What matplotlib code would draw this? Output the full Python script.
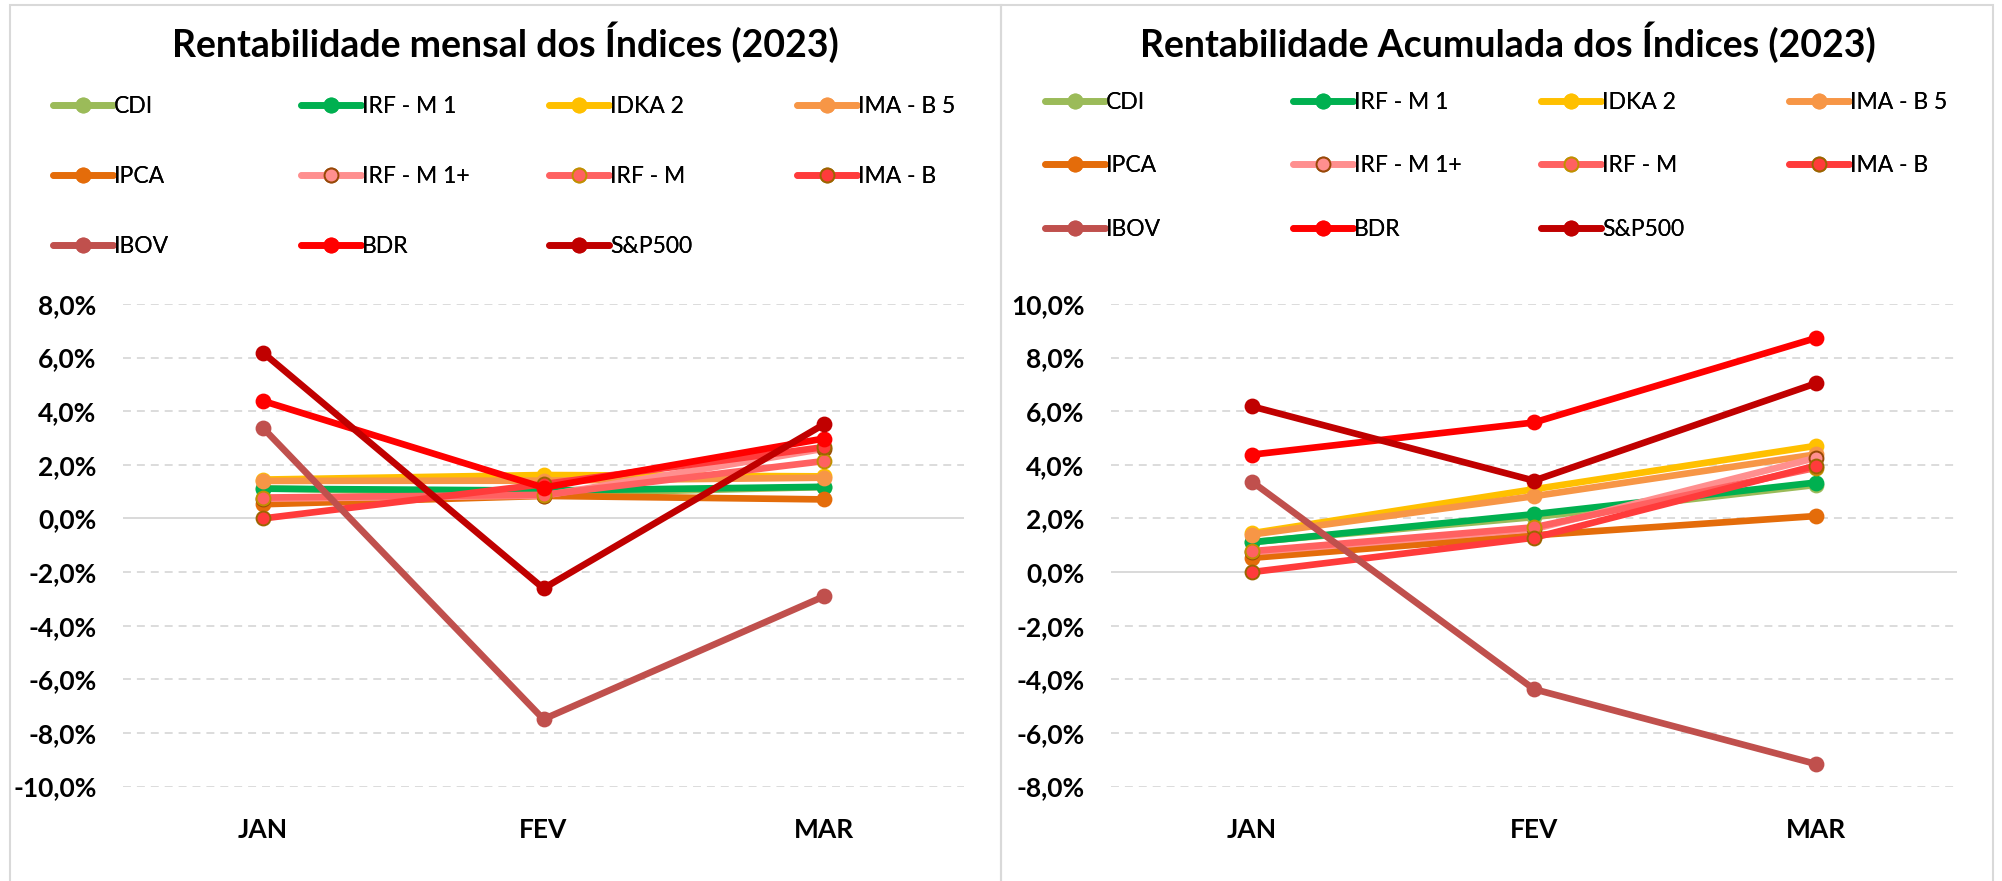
import matplotlib
matplotlib.use("Agg")
import matplotlib.pyplot as plt
import numpy as np
from matplotlib.lines import Line2D
from matplotlib.patches import Rectangle
from matplotlib.ticker import FuncFormatter

plt.rcParams["font.family"] = ["Lato", "DejaVu Sans"]

W, H = 2002, 881

months = ["JAN", "FEV", "MAR"]
series_names = ["CDI", "IRF - M 1", "IDKA 2", "IMA - B 5", "IPCA",
                "IRF - M 1+", "IRF - M", "IMA - B", "IBOV", "BDR", "S&P500"]

# ---- monthly returns (%) ----
cdi_mensal = [1.12, 0.92, 1.17]
irfm1_mensal = [1.11, 1.04, 1.18]
idka2_mensal = [1.45, 1.62, 1.57]
imab5_mensal = [1.40, 1.41, 1.52]
ipca_mensal = [0.53, 0.84, 0.71]
irfm1p_mensal = [0.74, 0.85, 2.60]
irfm_mensal = [0.78, 0.88, 2.14]
imab_mensal = [0.00, 1.28, 2.66]
ibov_mensal = [3.37, -7.49, -2.91]
bdr_mensal = [4.38, 1.15, 2.98]
sp500_mensal = [6.18, -2.61, 3.51]

# ---- accumulated returns (%) ----
cdi_acum = [1.12, 2.05, 3.25]
irfm1_acum = [1.11, 2.16, 3.34]
idka2_acum = [1.45, 3.09, 4.71]
imab5_acum = [1.40, 2.83, 4.39]
ipca_acum = [0.53, 1.37, 2.09]
irfm1p_acum = [0.74, 1.60, 4.26]
irfm_acum = [0.78, 1.67, 3.89]
imab_acum = [0.00, 1.28, 3.97]
ibov_acum = [3.37, -4.37, -7.16]
bdr_acum = [4.38, 5.58, 8.73]
sp500_acum = [6.18, 3.41, 7.04]

mensal = dict(zip(series_names, [
    cdi_mensal, irfm1_mensal, idka2_mensal, imab5_mensal, ipca_mensal,
    irfm1p_mensal, irfm_mensal, imab_mensal, ibov_mensal, bdr_mensal, sp500_mensal]))
acumulado = dict(zip(series_names, [
    cdi_acum, irfm1_acum, idka2_acum, imab5_acum, ipca_acum,
    irfm1p_acum, irfm_acum, imab_acum, ibov_acum, bdr_acum, sp500_acum]))

# line colour, marker face, marker edge
styles = {
    "CDI": ("#9BBB59", "#9BBB59", "#9BBB59"),
    "IRF - M 1": ("#00B050", "#00B050", "#00B050"),
    "IDKA 2": ("#FFC000", "#FFC000", "#FFC000"),
    "IMA - B 5": ("#F79646", "#F79646", "#F79646"),
    "IPCA": ("#E46C0A", "#E46C0A", "#E46C0A"),
    "IRF - M 1+": ("#FF8F8F", "#FF8F8F", "#984807"),
    "IRF - M": ("#FF6161", "#FF6161", "#C09000"),
    "IMA - B": ("#FF3B3B", "#FF3B3B", "#9C6500"),
    "IBOV": ("#C0504D", "#C0504D", "#C0504D"),
    "BDR": ("#FF0000", "#FF0000", "#FF0000"),
    "S&P500": ("#C00000", "#C00000", "#C00000"),
}

GRID = "#D9D9D9"
LW = 4.8
MS = 10


def pct(v, _):
    return f"{v:.1f}%".replace(".", ",")


def draw_panel(ax, data, ymin, ymax):
    x = np.arange(len(months))
    ticks = np.arange(ymin, ymax + 0.01, 2)
    for t in ticks:
        if abs(t) < 1e-9:
            ax.axhline(0, color=GRID, lw=1.4, zorder=1)
        else:
            ax.axhline(t, color=GRID, lw=1.3, ls=(0, (4.4, 3.3)), zorder=1)
    for i, name in enumerate(series_names):
        c, fc, ec = styles[name]
        ax.plot(x, data[name], color=c, lw=LW, marker="o", ms=MS,
                mfc=fc, mec=ec, mew=1.4, solid_capstyle="round",
                zorder=3 + i)
    ax.set_xlim(-0.5, len(months) - 0.5)
    ax.set_ylim(ymin, ymax)
    ax.set_yticks(ticks)
    ax.yaxis.set_major_formatter(FuncFormatter(pct))
    ax.set_xticks(x)
    ax.set_xticklabels(months)
    for s in ax.spines.values():
        s.set_visible(False)
    ax.tick_params(axis="y", length=0, pad=19, labelsize=19)
    ax.tick_params(axis="x", length=0, pad=23, labelsize=19)
    for lab in ax.get_xticklabels() + ax.get_yticklabels():
        lab.set_fontweight("bold")


def draw_legend(fig, x0, ytop, col_pitch, labelspacing):
    # excel fills the legend row by row, 4 per row
    for col in range(4):
        names = series_names[col::4]
        handles = []
        for name in names:
            c, fc, ec = styles[name]
            handles.append(Line2D([], [], color=c, lw=LW, marker="o", ms=MS,
                                  mfc=fc, mec=ec, mew=1.4, solid_capstyle="round"))
        leg = fig.legend(handles, names, loc="upper left",
                         bbox_to_anchor=((x0 + col * col_pitch) / W, 1 - ytop / H),
                         frameon=False, fontsize=16.5, handlelength=2.6,
                         handletextpad=0.05, borderpad=0, borderaxespad=0,
                         labelspacing=labelspacing, numpoints=1)
        fig.add_artist(leg)


fig = plt.figure(figsize=(W / 100, H / 100), dpi=100)

# chart frames
for x0, x1 in [(10, 1001), (1001, 1993)]:
    fig.add_artist(Rectangle((x0 / W, -0.01), (x1 - x0) / W, 1.01 - 5 / H,
                             transform=fig.transFigure, fill=False,
                             ec=GRID, lw=1.5))

ax1 = fig.add_axes([123 / W, 1 - 786.5 / H, 841 / W, 482.5 / H])
ax2 = fig.add_axes([1111 / W, 1 - 786.5 / H, 846 / W, 482.5 / H])

draw_panel(ax1, mensal, -10, 8)
draw_panel(ax2, acumulado, -8, 10)

fig.text(505 / W, 1 - 42 / H, "Rentabilidade mensal dos Índices (2023)",
         ha="center", va="center", fontsize=27, fontweight="bold")
fig.text(1508 / W, 1 - 42 / H, "Rentabilidade Acumulada dos Índices (2023)",
         ha="center", va="center", fontsize=27, fontweight="bold")

draw_legend(fig, 53, 96, 248, 2.13)
draw_legend(fig, 1045, 92, 248, 1.85)

fig.savefig("out.png", dpi=100)
